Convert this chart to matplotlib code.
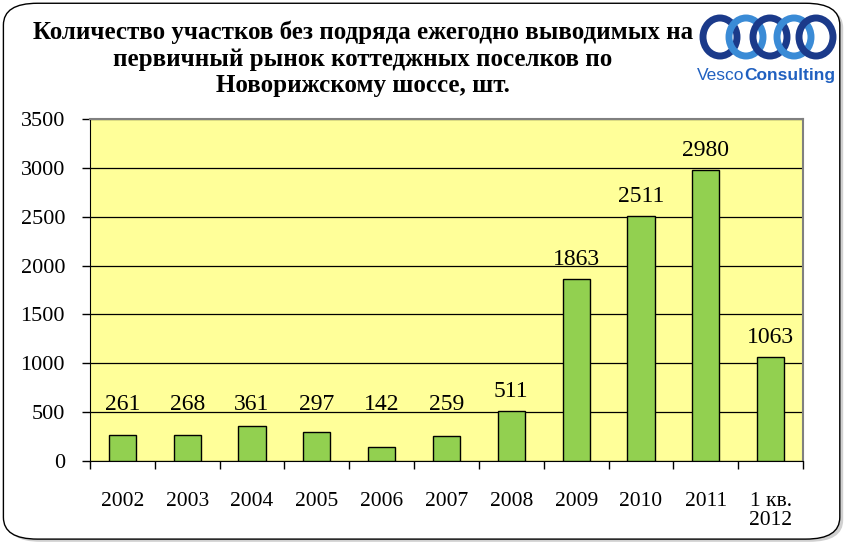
"""Bar chart: plots per year released on the Novorizhskoe highway market."""
import numpy as np
import matplotlib
matplotlib.use("Agg")
import matplotlib.pyplot as plt
from matplotlib.patches import FancyBboxPatch, Ellipse

# data
categories = ['2002', '2003', '2004', '2005', '2006', '2007', '2008',
              '2009', '2010', '2011', '1 кв.\n2012']
plots = [261, 268, 361, 297, 142, 259, 511, 1863, 2511, 2980, 1063]
y_ticks = [0, 500, 1000, 1500, 2000, 2500, 3000, 3500]

title = ("Количество участков без подряда ежегодно выводимых на\n"
         "первичный рынок коттеджных поселков по\n"
         "Новорижскому шоссе, шт.")

plt.rcParams['font.family'] = ['Liberation Serif', 'DejaVu Serif']

fig = plt.figure(figsize=(8.5, 5.44), dpi=100)

# outer rounded frame with a soft shadow
shadow = FancyBboxPatch((0.008, 0.004), 0.984, 0.985,
                        boxstyle="round,pad=0,rounding_size=0.04",
                        transform=fig.transFigure, facecolor='#d0d0d0',
                        edgecolor='none', zorder=0)
frame = FancyBboxPatch((0.004, 0.009), 0.984, 0.985,
                       boxstyle="round,pad=0,rounding_size=0.04",
                       transform=fig.transFigure, facecolor='white',
                       edgecolor='black', linewidth=1.0, zorder=0.5)
fig.patches.extend([shadow, frame])

ax = fig.add_axes([0.1059, 0.1526, 0.8388, 0.6286], zorder=2)
ax.set_facecolor('#FFFF99')
x = np.arange(len(categories))
ax.bar(x, plots, width=0.42, color='#92D050', edgecolor='black',
       linewidth=1.0, zorder=3)

ax.set_xlim(-0.5, len(categories) - 0.5)
ax.set_ylim(0, 3500)
ax.set_yticks(y_ticks)
ax.set_yticklabels([str(t) for t in y_ticks], fontsize=16)
ax.yaxis.grid(True, color='black', linewidth=0.9, zorder=1)
ax.set_axisbelow(True)

ax.set_xticks(x)
ax.set_xticklabels(categories, fontsize=15.5, linespacing=1.05)
ax.set_xticks(np.arange(-0.5, len(categories)), minor=True)
ax.tick_params(axis='x', which='major', length=0, pad=22)
ax.tick_params(axis='x', which='minor', length=6, direction='out', width=1)
ax.tick_params(axis='y', length=6, direction='out', width=1, pad=12)

for side in ('left', 'bottom'):
    ax.spines[side].set_color('black')
for side in ('top', 'right'):
    ax.spines[side].set_color('#808080')
    ax.spines[side].set_linewidth(1.5)

# value labels, lifted above the gridline for short bars
for xi, v in zip(x, plots):
    ax.text(xi, max(v, 380) + 90, str(v), ha='center', va='bottom',
            fontsize=17, zorder=4)

fig.text(0.427, 0.962, title, ha='center', va='top', fontsize=18,
         fontweight='bold', linespacing=1.2, zorder=3)

# logo: overlapping rings plus the company name
dark, light = '#1B3A8A', '#3A8BD6'
for cx, col in zip([720, 746, 770, 794, 816], [dark, light, dark, light, dark]):
    fig.patches.append(Ellipse((cx / 850, 1 - 37 / 544), 34 / 850, 38 / 544,
                               transform=fig.transFigure, fill=False,
                               edgecolor=col, linewidth=5, zorder=5))
vesco = fig.text(697 / 850, 1 - 80 / 544, 'Vesco', family='Liberation Sans',
                 fontsize=12.5, color='#2060C0', ha='left', va='baseline',
                 zorder=5)
ax.annotate('Consulting', xy=(1, 0), xycoords=vesco, ha='left',
            va='bottom', family='Liberation Sans', fontsize=12.5,
            fontweight='bold', color='#2060C0', annotation_clip=False)

fig.savefig('out.png', dpi=100)
